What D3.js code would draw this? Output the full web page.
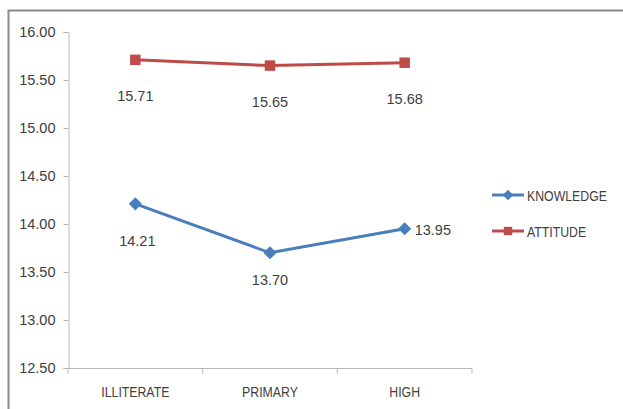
<!DOCTYPE html>
<html><head><meta charset="utf-8">
<script src="https://cdn.jsdelivr.net/npm/d3@7"></script>
<style>body{margin:0;background:#fff}svg{display:block}text{font-family:"Liberation Sans",Arial,sans-serif;fill:#404040}</style>
</head><body>
<svg id="c" width="623" height="409"></svg>
<script>
const categories = ["ILLITERATE", "PRIMARY", "HIGH"];
const knowledge = [14.21, 13.70, 13.95];
const attitude = [15.71, 15.65, 15.68];
const yTicks = [12.5, 13.0, 13.5, 14.0, 14.5, 15.0, 15.5, 16.0];
const seriesNames = ["KNOWLEDGE", "ATTITUDE"];

const svg = d3.select("#c");
svg.append("rect").attr("x", 8.5).attr("y", 10.5).attr("width", 630).attr("height", 420)
  .attr("fill", "none").attr("stroke", "#8a8a8a").attr("stroke-width", 2);

const x = d3.scaleBand().domain(categories).range([68, 472]);
const y = d3.scaleLinear().domain([12.5, 16]).range([368, 32]);

const yAxis = svg.append("g").attr("transform", "translate(68.5,0)")
  .call(d3.axisLeft(y).tickValues(yTicks).tickFormat(d3.format(".2f")).tickSize(5).tickPadding(8));
const xAxis = svg.append("g").attr("transform", "translate(0,368.5)")
  .call(d3.axisBottom(x).tickSize(0).tickPadding(18));
[yAxis, xAxis].forEach(g => {
  g.selectAll("path,line").attr("stroke", "#b8b8b8");
  g.selectAll("text").attr("fill", "#404040");
});
yAxis.selectAll("text").attr("font-size", 14.5).attr("dy", "0.34em");
xAxis.selectAll("text").attr("font-size", 15).attr("transform", "scale(0.82,1)");
xAxis.select(".domain").attr("d", "M68,0H472");
xAxis.selectAll(".bt").data([68, 202.7, 337.3, 472]).enter().append("line")
  .attr("x1", d => d).attr("x2", d => d).attr("y1", 0).attr("y2", 5).attr("stroke", "#b8b8b8");

const cx = c => x(c) + x.bandwidth() / 2;
const line = d3.line().x((d, i) => cx(categories[i])).y(d => y(d));

const series = [
  {name: seriesNames[0], vals: knowledge, color: "#4a7ebb", sym: d3.symbolDiamond2, size: 110},
  {name: seriesNames[1], vals: attitude, color: "#be4b48", sym: d3.symbolSquare, size: 110}
];
series.forEach(s => {
  svg.append("path").attr("d", line(s.vals)).attr("fill", "none").attr("stroke", s.color).attr("stroke-width", 3);
  s.vals.forEach((v, i) => {
    svg.append("path").attr("d", d3.symbol(s.sym, s.size)())
      .attr("transform", `translate(${cx(categories[i])},${y(v)})`).attr("fill", s.color);
  });
});

// data labels
const lbl = (txt, px, py, anchor) => svg.append("text").attr("x", px).attr("y", py)
  .attr("text-anchor", anchor).attr("font-size", 14.5).text(txt);
attitude.forEach((v, i) => lbl(v.toFixed(2), cx(categories[i]), y(v) + 41, "middle"));
lbl(knowledge[0].toFixed(2), cx(categories[0]) + 2, y(knowledge[0]) + 42, "middle");
lbl(knowledge[1].toFixed(2), cx(categories[1]), y(knowledge[1]) + 32, "middle");
lbl(knowledge[2].toFixed(2), cx(categories[2]) + 10, y(knowledge[2]) + 6, "start");

// legend
series.forEach((s, i) => {
  const ly = 195 + i * 36;
  svg.append("line").attr("x1", 492).attr("x2", 524).attr("y1", ly).attr("y2", ly)
    .attr("stroke", s.color).attr("stroke-width", 3);
  svg.append("path").attr("d", d3.symbol(s.sym, 70)()).attr("transform", `translate(508,${ly})`).attr("fill", s.color);
  svg.append("text").attr("transform", `translate(527,${ly + 5.5}) scale(0.82,1)`).attr("font-size", 15).text(s.name);
});
</script>
</body></html>
